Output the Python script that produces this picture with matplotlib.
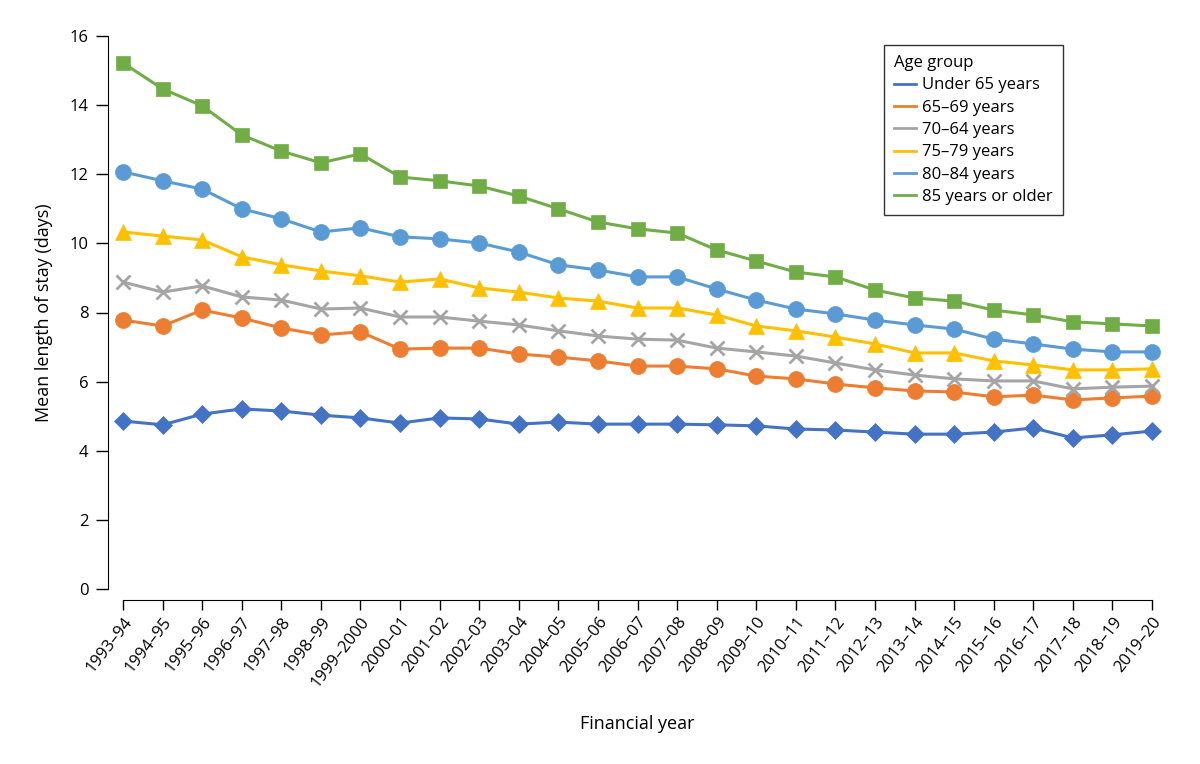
import matplotlib
matplotlib.use("Agg")
import matplotlib.pyplot as plt
from matplotlib.lines import Line2D

plt.rcParams['font.family'] = ['Open Sans', 'DejaVu Sans']

years = ['1993–94', '1994–95', '1995–96', '1996–97', '1997–98', '1998–99',
         '1999–2000', '2000–01', '2001–02', '2002–03', '2003–04', '2004–05',
         '2005–06', '2006–07', '2007–08', '2008–09', '2009–10', '2010–11',
         '2011–12', '2012–13', '2013–14', '2014–15', '2015–16', '2016–17',
         '2017–18', '2018–19', '2019–20']

under_65 = [4.86, 4.75, 5.06, 5.21, 5.15, 5.03, 4.95, 4.80, 4.95, 4.92, 4.77, 4.83,
            4.77, 4.77, 4.77, 4.75, 4.72, 4.63, 4.60, 4.54, 4.48, 4.48, 4.54, 4.66,
            4.37, 4.46, 4.57]
age_65_69 = [7.78, 7.61, 8.07, 7.84, 7.55, 7.35, 7.44, 6.94, 6.97, 6.97, 6.80, 6.71,
             6.60, 6.45, 6.45, 6.37, 6.16, 6.08, 5.93, 5.82, 5.73, 5.70, 5.56, 5.61,
             5.47, 5.53, 5.58]
age_70_74 = [8.88, 8.59, 8.77, 8.45, 8.36, 8.10, 8.13, 7.87, 7.87, 7.75, 7.64, 7.47,
             7.32, 7.23, 7.20, 6.97, 6.86, 6.74, 6.54, 6.34, 6.19, 6.08, 6.02, 6.02,
             5.79, 5.84, 5.87]
age_75_79 = [10.33, 10.21, 10.10, 9.61, 9.38, 9.20, 9.06, 8.88, 8.97, 8.71, 8.59, 8.42,
             8.33, 8.13, 8.13, 7.93, 7.61, 7.47, 7.29, 7.09, 6.83, 6.83, 6.60, 6.48,
             6.34, 6.34, 6.37]
age_80_84 = [12.07, 11.81, 11.57, 11.00, 10.71, 10.33, 10.45, 10.19, 10.13, 10.01, 9.75, 9.38,
             9.23, 9.03, 9.03, 8.68, 8.36, 8.10, 7.96, 7.78, 7.64, 7.52, 7.23, 7.09,
             6.94, 6.86, 6.86]
age_85_plus = [15.22, 14.47, 13.98, 13.14, 12.67, 12.33, 12.59, 11.92, 11.81, 11.66, 11.37, 11.00,
               10.62, 10.42, 10.30, 9.81, 9.49, 9.17, 9.03, 8.65, 8.42, 8.33, 8.07, 7.93,
               7.73, 7.67, 7.61]

labels = ['Under 65 years', '65–69 years', '70–64 years', '75–79 years',
          '80–84 years', '85 years or older']
series = [under_65, age_65_69, age_70_74, age_75_79, age_80_84, age_85_plus]
colors = ['#4472C4', '#ED7D31', '#A5A5A5', '#FFC000', '#5B9BD5', '#70AD47']
markers = ['D', 'o', 'x', '^', 'o', 's']
msizes = [9, 11.5, 10, 11.5, 11.5, 10.5]

fig = plt.figure(figsize=(12, 7.64), dpi=100)
ax = fig.add_axes([123 / 1200, 1 - 589 / 764, (1152 - 123) / 1200, (589 - 36) / 764])

x = list(range(len(years)))
for vals, c, m, ms in zip(series, colors, markers, msizes):
    ax.plot(x, vals, color=c, lw=2.2, marker=m, markersize=ms, clip_on=False,
            markeredgewidth=2 if m == 'x' else 0.5, markeredgecolor=c, zorder=3)

ax.set_xlim(0, len(years) - 1)
ax.set_ylim(0, 16)
ax.set_yticks(range(0, 17, 2))
ax.set_xticks(x)

for s in ['top', 'right']:
    ax.spines[s].set_visible(False)
ax.spines['left'].set_position(('outward', 11))
ax.spines['bottom'].set_position(('outward', 8))
ax.tick_params(axis='y', length=9, width=1, labelsize=12, pad=5)
ax.tick_params(axis='x', length=7, width=1, labelsize=12, pad=3)
ax.set_xticklabels(years)
plt.setp(ax.get_xticklabels(), rotation=52, ha='right', rotation_mode='anchor')

ax.set_ylabel('Mean length of stay (days)', fontsize=13, labelpad=12)
ax.set_xlabel('Financial year', fontsize=13, labelpad=18)

handles = [Line2D([0], [0], color=c, lw=2) for c in colors]
leg = ax.legend(handles, labels, title='Age group', loc='upper left',
                bbox_to_anchor=(884 / 1200, 1 - 45 / 764), bbox_transform=fig.transFigure,
                fontsize=12, title_fontsize=12, frameon=True, fancybox=False,
                handlelength=1.3, handletextpad=0.4, labelspacing=0.38,
                borderpad=0.6, borderaxespad=0)
leg._legend_box.align = 'left'
leg.get_frame().set_edgecolor('black')
leg.get_frame().set_linewidth(1)

fig.savefig('out.png', dpi=100)
